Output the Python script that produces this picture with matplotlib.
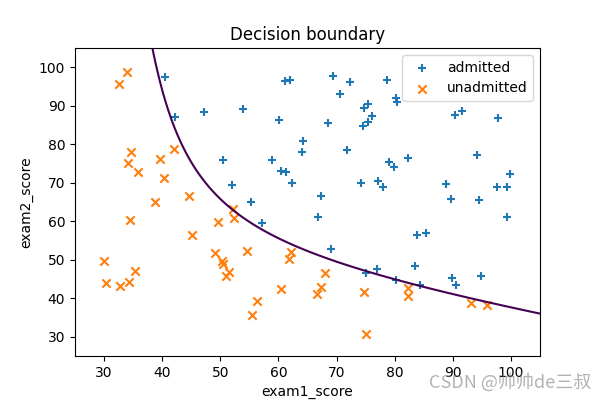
import numpy as np
import matplotlib
matplotlib.use("Agg")
import matplotlib.pyplot as plt

# exam scores (exam1, exam2, admitted flag)
exam1 = [34.62, 30.29, 35.85, 60.18, 79.03, 45.08, 61.11, 75.02, 76.10, 84.43,
         95.86, 75.01, 82.31, 69.36, 39.54, 53.97, 69.07, 67.95, 70.66, 76.98,
         67.37, 89.68, 50.53, 34.21, 77.92, 62.27, 80.19, 93.11, 61.83, 38.79,
         61.38, 85.40, 52.11, 52.05, 40.24, 54.64, 33.92, 64.18, 74.79, 34.18,
         83.90, 51.55, 94.44, 82.37, 51.05, 62.22, 77.19, 97.77, 62.07, 91.56,
         79.94, 99.27, 90.55, 34.52, 50.29, 49.59, 97.65, 32.58, 74.25, 71.80,
         75.40, 35.29, 56.25, 30.06, 44.67, 66.56, 40.46, 49.07, 80.28, 66.75,
         32.72, 64.04, 72.35, 60.46, 58.84, 99.83, 47.26, 50.46, 60.46, 82.23,
         88.91, 94.83, 67.32, 57.24, 80.37, 68.47, 42.08, 75.48, 78.64, 52.35,
         94.09, 90.45, 55.48, 74.49, 89.85, 83.49, 42.26, 99.32, 55.34, 74.78]
exam2 = [78.02, 43.89, 72.90, 86.31, 75.34, 56.32, 96.51, 46.55, 87.42, 43.53,
         38.23, 30.60, 76.48, 97.72, 76.04, 89.21, 52.74, 46.68, 92.93, 47.58,
         42.84, 65.80, 48.86, 44.21, 68.97, 69.95, 44.82, 38.80, 50.26, 65.00,
         72.81, 57.05, 63.13, 69.43, 71.17, 52.21, 98.87, 80.91, 41.57, 75.24,
         56.31, 46.86, 65.57, 40.62, 45.82, 52.06, 70.46, 86.73, 96.77, 88.70,
         74.16, 61.00, 43.39, 60.40, 49.80, 59.81, 68.86, 95.60, 69.82, 78.45,
         85.76, 47.02, 39.26, 49.59, 66.45, 41.09, 97.54, 51.88, 92.12, 60.99,
         43.31, 78.03, 96.23, 73.09, 75.86, 72.37, 88.48, 75.81, 42.51, 42.72,
         69.80, 45.69, 66.59, 59.51, 90.96, 85.59, 78.84, 90.42, 96.65, 60.77,
         77.16, 87.51, 35.57, 84.85, 45.36, 48.38, 87.10, 68.78, 64.93, 89.53]
admitted = [0, 0, 0, 1, 1, 0, 1, 1, 1, 1,
            0, 0, 1, 1, 0, 1, 1, 0, 1, 1,
            0, 1, 0, 0, 1, 1, 1, 0, 0, 0,
            1, 1, 0, 1, 0, 0, 0, 1, 0, 0,
            1, 0, 1, 0, 0, 0, 1, 1, 1, 1,
            1, 1, 1, 0, 0, 0, 1, 0, 1, 1,
            1, 0, 0, 0, 0, 0, 1, 0, 1, 1,
            0, 1, 1, 1, 1, 1, 1, 1, 0, 0,
            1, 1, 1, 1, 1, 1, 0, 1, 1, 0,
            1, 1, 0, 1, 1, 1, 1, 1, 1, 1]

# decision boundary
boundary_x = [38.47, 40.48, 42.95, 46.44, 52.1, 58.5, 62.0, 68.87, 75.0, 84.35, 94.7, 105.0]
boundary_y = [105.0, 90.19, 80.0, 72.45, 63.8, 56.9, 53.8, 50.8, 46.9, 43.0, 39.1, 36.25]

x1 = np.array(exam1); x2 = np.array(exam2); lab = np.array(admitted)

# fit a conic through the boundary readings (scaled)
bx = np.array(boundary_x) / 100.0
by = np.array(boundary_y) / 100.0
A = np.column_stack([bx**2, bx*by, by**2, bx, by, np.ones_like(bx)])
_, _, vt = np.linalg.svd(A)
coef = vt[-1]

gx, gy = np.meshgrid(np.linspace(25, 105, 400), np.linspace(25, 105, 400))
sx, sy = gx / 100.0, gy / 100.0
Z = coef[0]*sx**2 + coef[1]*sx*sy + coef[2]*sy**2 + coef[3]*sx + coef[4]*sy + coef[5]

fig, ax = plt.subplots(figsize=(6, 4), dpi=100)
ax.scatter(x1[lab == 1], x2[lab == 1], marker='+', color='#1f77b4', label='admitted')
ax.scatter(x1[lab == 0], x2[lab == 0], marker='x', color='#ff7f0e', label='unadmitted')
ax.contour(gx, gy, Z, levels=[0], colors=['#440154'], linewidths=1.5)
ax.set_xlim(25, 105)
ax.set_ylim(25, 105)
ax.set_xticks([30, 40, 50, 60, 70, 80, 90, 100])
ax.set_yticks([30, 40, 50, 60, 70, 80, 90, 100])
ax.set_xlabel('exam1_score')
ax.set_ylabel('exam2_score')
ax.set_title('Decision boundary')
ax.legend(loc='upper right')
fig.text(0.985, 0.045, 'CSDN @帅帅de三叔', ha='right', va='center', fontsize=13,
         color='gray', alpha=0.6, family=['Noto Sans CJK SC', 'DejaVu Sans'])
fig.savefig('out.png', dpi=100)
